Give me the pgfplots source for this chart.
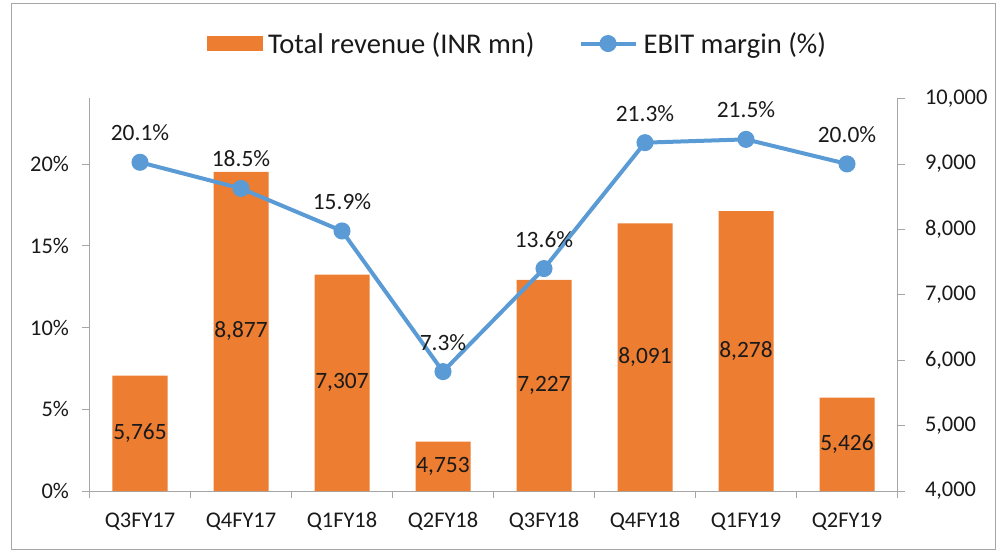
\documentclass[border=0pt]{standalone}
\usepackage{fontspec}
\setmainfont{Carlito}
\usepackage{pgfplots}
\pgfplotsset{compat=1.18}
\usepackage{pgfplotstable}

\definecolor{barorange}{HTML}{ED7D31}
\definecolor{lineblue}{HTML}{5B9BD5}
\definecolor{axgray}{HTML}{A6A6A6}
\definecolor{txt}{HTML}{1A1A1A}

% quarter, revenue (INR mn), EBIT margin (%)
\pgfplotstableread{
x q rev ebit
0 Q3FY17 5765 20.1
1 Q4FY17 8877 18.5
2 Q1FY18 7307 15.9
3 Q2FY18 4753 7.3
4 Q3FY18 7227 13.6
5 Q4FY18 8091 21.3
6 Q1FY19 8278 21.5
7 Q2FY19 5426 20.0
}\data

\pgfplotsset{
  base/.style={
    scale only axis, width=808bp, height=392.5bp,
    xmin=-0.5, xmax=7.5,
    tick align=outside,
    major tick length=7bp,
    minor tick length=7bp,
    axis line style={axgray, line width=0.8bp},
    tick style={axgray, line width=0.8bp},
    ticklabel style={font=\fontsize{22.5}{27}\selectfont, text=txt},
    /pgf/number format/assume math mode=true,
    scaled y ticks=false,
  },
  revlegend/.style={legend image code/.code={\fill[barorange] (0bp,-7bp) rectangle (55bp,7bp);}},
  ebitlegend/.style={legend image code/.code={\draw[mark repeat=2,mark phase=2,##1] plot coordinates {(0bp,0bp) (27.5bp,0bp) (55bp,0bp)};}},
}

\begin{document}
\begin{tikzpicture}
% revenue bars on the right axis
\begin{axis}[base,
  axis y line*=right, axis x line*=bottom,
  ymin=4000, ymax=10000, ytick={4000,5000,...,10000},
  /pgf/number format/1000 sep={,},
  xtick={0,...,7}, xticklabels from table={\data}{q},
  major x tick style={draw=none},
  minor xtick={-0.5,0.5,...,7.5},
  xticklabel style={yshift=-11bp},
  yticklabel style={xshift=17bp},
]
\addplot[ybar, bar width=55bp, fill=barorange, draw=none] table[x=x, y=rev]{\data};
\addplot[draw=none, mark=none, point meta=explicit,
  nodes near coords={\pgfmathprintnumber{\pgfplotspointmeta}},
  every node near coord/.append style={anchor=center, font=\fontsize{23.5}{28}\selectfont, text=txt}]
  table[x=x, y expr={(\thisrow{rev}+4000)/2}, meta=rev]{\data};
\end{axis}
% EBIT margin line on the left axis
\begin{axis}[base,
  axis y line*=left, axis x line=none,
  ymin=0, ymax=24, ytick={0,5,...,20},
  yticklabel={\pgfmathprintnumber{\tick}\%},
  yticklabel style={xshift=-10bp},
  legend style={draw=none, fill=none, at={(0.532,1.14)}, anchor=center,
    legend columns=2, font=\fontsize{28.7}{34}\selectfont, text=txt,
    nodes={inner xsep=6bp},
    /tikz/every even column/.append style={column sep=38bp}},
]
\addlegendimage{revlegend}
\addlegendentry{Total revenue (INR mn)}
\addplot[lineblue, line width=4bp, mark=*, mark size=6.5bp,
  mark options={fill=lineblue, draw=none}, ebitlegend,
  nodes near coords={\pgfmathprintnumber[fixed, fixed zerofill, precision=1]{\pgfplotspointmeta}\%},
  every node near coord/.append style={font=\fontsize{23.5}{28}\selectfont, text=txt, yshift=16bp}]
  table[x=x, y=ebit]{\data};
\addlegendentry{EBIT margin (\%)}
\end{axis}
\draw[axgray, line width=1bp] (-77.5bp,-58bp) rectangle (906bp,487bp);
\useasboundingbox (-89.5bp,-60bp) rectangle (907.5bp,491bp);
\end{tikzpicture}
\end{document}
